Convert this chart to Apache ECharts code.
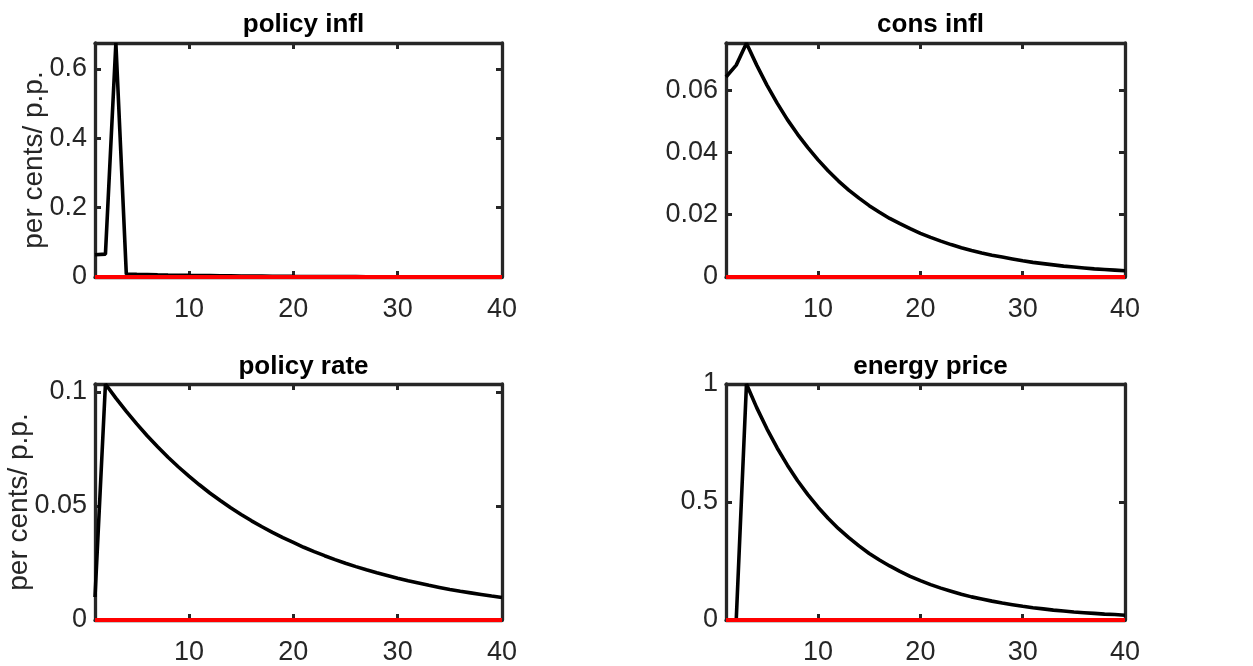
<!DOCTYPE html>
<html>
<head>
<meta charset="utf-8">
<script src="https://cdn.jsdelivr.net/npm/echarts@6/dist/echarts.min.js"></script>
<style>
html,body{margin:0;padding:0;background:#fff;}
#main{width:1253px;height:666px;}
</style>
</head>
<body>
<div id="main"></div>
<script>
const periods = [1,2,3,4,5,6,7,8,9,10,11,12,13,14,15,16,17,18,19,20,21,22,23,24,25,26,27,28,29,30,31,32,33,34,35,36,37,38,39,40];

const titles = ['policy infl', 'cons infl', 'policy rate', 'energy price'];
const yAxisName = 'per cents/ p.p.';

const policyInfl = [0.064,0.066,0.675,0.0085,0.0077,0.0070,0.0063,0.0057,0.0052,0.0047,0.0043,0.0039,0.0035,0.0032,0.0029,0.0026,0.0024,0.0021,0.0019,0.0017,0.0016,0.0014,0.0013,0.0012,0.0011,0.0010,0.0009,0.0008,0.0007,0.0007,0.0006,0.0005,0.0005,0.0004,0.0004,0.0004,0.0003,0.0003,0.0003,0.0002];
const consInfl = [0.0642,0.0680,0.0750,0.0680,0.0616,0.0558,0.0505,0.0458,0.0415,0.0376,0.0340,0.0308,0.0279,0.0253,0.0229,0.0208,0.0188,0.0171,0.0155,0.0140,0.0127,0.0115,0.0104,0.0094,0.0085,0.0077,0.0070,0.0064,0.0058,0.0052,0.0047,0.0043,0.0039,0.0035,0.0032,0.0029,0.0026,0.0024,0.0022,0.0020];
const policyRate = [0.0101,0.1035,0.0973,0.0915,0.0860,0.0808,0.0760,0.0714,0.0671,0.0631,0.0593,0.0557,0.0524,0.0492,0.0463,0.0435,0.0409,0.0384,0.0361,0.0340,0.0319,0.0300,0.0282,0.0265,0.0249,0.0234,0.0220,0.0207,0.0195,0.0183,0.0172,0.0162,0.0152,0.0143,0.0134,0.0126,0.0119,0.0112,0.0105,0.0099];
const energyPrice = [0,0,1.000,0.900,0.810,0.729,0.656,0.590,0.531,0.478,0.430,0.387,0.349,0.314,0.282,0.254,0.229,0.206,0.185,0.167,0.150,0.135,0.122,0.109,0.098,0.089,0.080,0.072,0.065,0.058,0.052,0.047,0.042,0.038,0.034,0.031,0.028,0.025,0.023,0.020];
const baseline = [0,0,0,0,0,0,0,0,0,0,0,0,0,0,0,0,0,0,0,0,0,0,0,0,0,0,0,0,0,0,0,0,0,0,0,0,0,0,0,0];

const xTicks = [10, 20, 30, 40];
const yTicks = [[0, 0.2, 0.4, 0.6], [0, 0.02, 0.04, 0.06], [0, 0.05, 0.1], [0, 0.5, 1]];
const yMax = [0.675, 0.0751, 0.1035, 1];
const seriesData = [policyInfl, consInfl, policyRate, energyPrice];
const showYName = [true, false, true, false];

const panels = [
  {left: 95, top: 43, width: 407, height: 234},
  {left: 726, top: 43, width: 399, height: 234},
  {left: 95, top: 384, width: 407, height: 236},
  {left: 726, top: 384, width: 399, height: 236}
];
const titleTops = [7, 7, 349, 349];
const nameGaps = [47, 47, 62, 62];

const FRAME = '#262626';
const FONT = 'Liberation Sans, Arial, sans-serif';

const option = {
  animation: false,
  backgroundColor: '#fff',
  title: [], grid: [], xAxis: [], yAxis: [], series: []
};

panels.forEach((p, i) => {
  option.grid.push({left: p.left, top: p.top, width: p.width, height: p.height, containLabel: false});
  option.title.push({
    text: titles[i], left: p.left + p.width / 2, top: titleTops[i], textAlign: 'center',
    textStyle: {fontFamily: FONT, fontWeight: 'bold', fontSize: 26, color: '#000'}
  });
  const axisLine = {show: true, onZero: false, lineStyle: {color: FRAME, width: 3.3}};
  const tick = {show: true, inside: true, length: 6, lineStyle: {color: FRAME, width: 3}};
  option.xAxis.push({
    type: 'value', gridIndex: i, position: 'bottom', min: 1, max: 40,
    axisLine: axisLine, splitLine: {show: false},
    axisTick: Object.assign({}, tick, {customValues: xTicks}),
    axisLabel: {customValues: xTicks, margin: 19, fontFamily: FONT, fontSize: 27, color: FRAME}
  });
  option.xAxis.push({
    type: 'value', gridIndex: i, position: 'top', min: 1, max: 40,
    axisLine: axisLine, splitLine: {show: false},
    axisTick: Object.assign({}, tick, {customValues: xTicks}),
    axisLabel: {show: false}
  });
  option.yAxis.push({
    type: 'value', gridIndex: i, position: 'left', min: 0, max: yMax[i],
    name: showYName[i] ? yAxisName : '', nameLocation: 'middle', nameGap: nameGaps[i],
    nameMoveOverlap: false,
    nameTextStyle: {fontFamily: FONT, fontSize: 28, color: FRAME},
    axisLine: axisLine, splitLine: {show: false},
    axisTick: Object.assign({}, tick, {customValues: yTicks[i]}),
    axisLabel: {customValues: yTicks[i], margin: 8, fontFamily: FONT, fontSize: 27, color: FRAME}
  });
  option.yAxis.push({
    type: 'value', gridIndex: i, position: 'right', min: 0, max: yMax[i],
    axisLine: axisLine, splitLine: {show: false},
    axisTick: Object.assign({}, tick, {customValues: yTicks[i]}),
    axisLabel: {show: false}
  });
  option.series.push({
    type: 'line', xAxisIndex: 2 * i, yAxisIndex: 2 * i, showSymbol: false, symbol: 'none',
    data: periods.map((t, k) => [t, seriesData[i][k]]),
    lineStyle: {color: '#000', width: 3.6}, z: 2, clip: true
  });
  option.series.push({
    type: 'line', xAxisIndex: 2 * i, yAxisIndex: 2 * i, showSymbol: false, symbol: 'none',
    data: periods.map((t, k) => [t, baseline[k]]),
    lineStyle: {color: '#ff0000', width: 4}, z: 3, clip: false
  });
});

const chart = echarts.init(document.getElementById('main'), null, {renderer: 'canvas'});
chart.setOption(option);
</script>
</body>
</html>
